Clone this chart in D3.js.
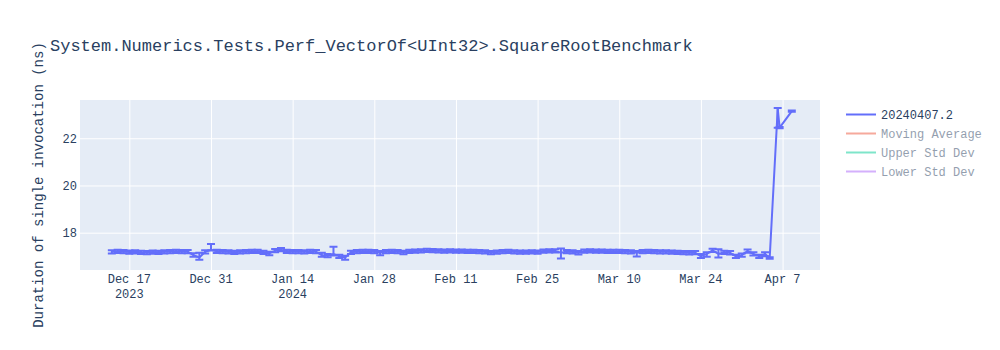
<!DOCTYPE html>
<html>
<head>
<meta charset="utf-8">
<script src="https://cdn.jsdelivr.net/npm/d3@7"></script>
<style>
  body { margin: 0; background: #fff; }
  svg { font-family: "Courier New", "Liberation Mono", monospace; }
</style>
</head>
<body>
<div id="chart"></div>
<script>
// run dates, duration (ns), and asymmetric error bars
const runDates = [
  "2023-12-14","2023-12-15","2023-12-16","2023-12-17","2023-12-18","2023-12-19","2023-12-20",
  "2023-12-21","2023-12-22","2023-12-23","2023-12-24","2023-12-25","2023-12-26","2023-12-27",
  "2023-12-28","2023-12-29","2023-12-30","2023-12-31","2024-01-01","2024-01-02","2024-01-03",
  "2024-01-04","2024-01-05","2024-01-06","2024-01-07","2024-01-08","2024-01-09","2024-01-10",
  "2024-01-11","2024-01-12","2024-01-13","2024-01-14","2024-01-15","2024-01-16","2024-01-17",
  "2024-01-18","2024-01-19","2024-01-20","2024-01-21","2024-01-22","2024-01-23","2024-01-24",
  "2024-01-25","2024-01-26","2024-01-27","2024-01-28","2024-01-29","2024-01-30","2024-01-31",
  "2024-02-01","2024-02-02","2024-02-03","2024-02-04","2024-02-05","2024-02-06","2024-02-07",
  "2024-02-08","2024-02-09","2024-02-10","2024-02-11","2024-02-12","2024-02-13","2024-02-14",
  "2024-02-15","2024-02-16","2024-02-17","2024-02-18","2024-02-19","2024-02-20","2024-02-21",
  "2024-02-22","2024-02-23","2024-02-24","2024-02-25","2024-02-26","2024-02-27","2024-02-28",
  "2024-02-29","2024-03-01","2024-03-02","2024-03-03","2024-03-04","2024-03-05","2024-03-06",
  "2024-03-07","2024-03-08","2024-03-09","2024-03-10","2024-03-11","2024-03-12","2024-03-13",
  "2024-03-14","2024-03-15","2024-03-16","2024-03-17","2024-03-18","2024-03-19","2024-03-20",
  "2024-03-21","2024-03-22","2024-03-23","2024-03-24","2024-03-25","2024-03-26","2024-03-27",
  "2024-03-28","2024-03-29","2024-03-30","2024-03-31","2024-04-01","2024-04-02","2024-04-03",
  "2024-04-04","2024-04-04T19:00Z","2024-04-06T04:00Z","2024-04-06T12:00Z","2024-04-08T14:00Z"
];
const durations = [
  17.19,17.21,17.20,17.18,17.19,17.17,17.16,
  17.18,17.17,17.19,17.20,17.21,17.20,17.20,
  17.05,16.95,17.19,17.28,17.21,17.20,17.19,
  17.17,17.19,17.20,17.21,17.21,17.17,17.12,
  17.24,17.28,17.21,17.20,17.20,17.19,17.21,
  17.20,17.05,17.03,17.10,17.00,16.95,17.17,
  17.20,17.21,17.21,17.20,17.15,17.20,17.21,
  17.20,17.17,17.21,17.22,17.23,17.25,17.24,
  17.23,17.22,17.23,17.22,17.22,17.21,17.21,
  17.20,17.19,17.16,17.18,17.20,17.21,17.19,
  17.18,17.18,17.19,17.18,17.22,17.23,17.23,
  17.15,17.20,17.19,17.15,17.22,17.23,17.22,
  17.22,17.21,17.21,17.21,17.20,17.19,17.15,
  17.20,17.21,17.20,17.19,17.19,17.18,17.17,
  17.16,17.15,17.16,17.00,17.10,17.25,17.10,
  17.17,17.15,17.00,17.05,17.22,17.10,17.00,
  17.10,16.93,23.25,22.45,23.15
];
const errPlus = [
  0.07,0.07,0.07,0.07,0.07,0.07,0.07,
  0.07,0.07,0.07,0.07,0.07,0.07,0.07,
  0.08,0.20,0.07,0.24,0.07,0.07,0.07,
  0.07,0.07,0.07,0.07,0.07,0.07,0.07,
  0.07,0.07,0.07,0.07,0.07,0.07,0.07,
  0.07,0.10,0.07,0.30,0.07,0.07,0.07,
  0.07,0.07,0.07,0.07,0.07,0.07,0.07,
  0.07,0.07,0.07,0.07,0.07,0.07,0.07,
  0.07,0.07,0.07,0.07,0.07,0.07,0.07,
  0.07,0.07,0.07,0.07,0.07,0.07,0.07,
  0.07,0.07,0.07,0.07,0.07,0.07,0.07,
  0.18,0.07,0.07,0.07,0.07,0.07,0.07,
  0.07,0.07,0.07,0.07,0.07,0.07,0.07,
  0.07,0.07,0.07,0.07,0.07,0.07,0.07,
  0.07,0.07,0.07,0.10,0.07,0.07,0.20,
  0.07,0.07,0.07,0.07,0.07,0.07,0.07,
  0.07,0.03,0.03,0.03,0.03
];
const errMinus = [
  0.07,0.07,0.07,0.07,0.07,0.07,0.07,
  0.07,0.07,0.07,0.07,0.07,0.07,0.07,
  0.07,0.10,0.07,0.03,0.07,0.07,0.07,
  0.07,0.07,0.07,0.07,0.07,0.07,0.07,
  0.07,0.07,0.07,0.07,0.07,0.07,0.07,
  0.07,0.07,0.07,0.07,0.07,0.10,0.07,
  0.07,0.07,0.07,0.07,0.10,0.07,0.07,
  0.07,0.08,0.07,0.07,0.07,0.07,0.07,
  0.07,0.07,0.07,0.07,0.07,0.07,0.07,
  0.07,0.07,0.07,0.07,0.07,0.07,0.07,
  0.07,0.07,0.07,0.07,0.07,0.07,0.07,
  0.24,0.07,0.07,0.07,0.07,0.07,0.07,
  0.07,0.07,0.07,0.07,0.07,0.07,0.16,
  0.07,0.07,0.07,0.07,0.07,0.07,0.07,
  0.07,0.07,0.07,0.07,0.12,0.07,0.15,
  0.07,0.07,0.07,0.07,0.07,0.07,0.07,
  0.10,0.03,0.80,0.03,0.03
];

const xTicks = ["2023-12-17","2023-12-31","2024-01-14","2024-01-28","2024-02-11",
                "2024-02-25","2024-03-10","2024-03-24","2024-04-07"];
const xTickLabels = ["Dec 17\n2023","Dec 31","Jan 14\n2024","Jan 28","Feb 11",
                     "Feb 25","Mar 10","Mar 24","Apr 7"];
const yTicks = [18, 20, 22];

const legendNames = ["20240407.2","Moving Average","Upper Std Dev","Lower Std Dev"];
const legendColors = ["#636efa","#EF553B","#00cc96","#ab63fa"];
const legendHidden = [false, true, true, true];

const chartTitle = "System.Numerics.Tests.Perf_VectorOf<UInt32>.SquareRootBenchmark";
const yTitle = "Duration of single invocation (ns)";

const W = 1000, H = 350;
const margin = {left: 80, right: 180, top: 100, bottom: 80};
const plotW = W - margin.left - margin.right;
const plotH = H - margin.top - margin.bottom;
const textColor = "#2a3f5f";
const lineColor = "#636efa";

const points = runDates.map((d, i) => ({
  date: new Date(d),
  v: durations[i],
  hi: durations[i] + errPlus[i],
  lo: durations[i] - errMinus[i]
}));

const svg = d3.select("#chart").append("svg")
  .attr("width", W)
  .attr("height", H);

const x = d3.scaleUtc()
  .domain([new Date("2023-12-08T13:00Z"), new Date("2024-04-13T10:00Z")])
  .range([0, plotW]);
const y = d3.scaleLinear()
  .domain([16.42, 23.62])
  .range([plotH, 0]);

const g = svg.append("g")
  .attr("transform", "translate(" + margin.left + "," + margin.top + ")");

g.append("rect")
  .attr("width", plotW)
  .attr("height", plotH)
  .attr("fill", "#e5ecf6");

// gridlines
const xGrid = g.append("g")
  .attr("transform", "translate(0," + plotH + ")")
  .call(d3.axisBottom(x).tickValues(xTicks.map(d => new Date(d))).tickSize(-plotH).tickFormat(""));
xGrid.select(".domain").remove();
xGrid.selectAll("line").attr("stroke", "#fff").attr("stroke-width", 1);

const yGrid = g.append("g")
  .call(d3.axisLeft(y).tickValues(yTicks).tickSize(-plotW).tickPadding(3));
yGrid.select(".domain").remove();
yGrid.selectAll("line").attr("stroke", "#fff").attr("stroke-width", 1);
yGrid.selectAll("text")
  .attr("fill", textColor)
  .attr("font-size", 12)
  .attr("font-family", "\"Courier New\", \"Liberation Mono\", monospace");

// x tick labels (two lines)
const xLab = g.append("g").selectAll("text")
  .data(xTicks)
  .enter()
  .append("text")
  .attr("x", d => x(new Date(d)))
  .attr("y", plotH + 13)
  .attr("text-anchor", "middle")
  .attr("fill", textColor)
  .attr("font-size", 12);
xLab.each(function(d, i) {
  const lines = xTickLabels[i].split("\n");
  const t = d3.select(this);
  lines.forEach((s, k) => {
    t.append("tspan")
      .attr("x", x(new Date(d)))
      .attr("dy", k === 0 ? 0 : 15)
      .text(s);
  });
});

// error bars
const marks = g.append("g");
const capW = 4;
marks.append("g").selectAll("path")
  .data(points)
  .enter()
  .append("path")
  .attr("d", d => {
    const px = x(d.date), yh = y(d.hi), yl = y(d.lo);
    return "M" + (px - capW) + "," + yh + "h" + (2 * capW) +
           "M" + px + "," + yh + "V" + yl +
           "M" + (px - capW) + "," + yl + "h" + (2 * capW);
  })
  .attr("fill", "none")
  .attr("stroke", lineColor)
  .attr("stroke-width", 2);

// main line
const line = d3.line()
  .x(d => x(d.date))
  .y(d => y(d.v));
marks.append("path")
  .datum(points)
  .attr("d", line)
  .attr("fill", "none")
  .attr("stroke", lineColor)
  .attr("stroke-width", 2)
  .attr("stroke-linejoin", "round");

// title
svg.append("text")
  .attr("x", 50)
  .attr("y", 51)
  .attr("fill", textColor)
  .attr("font-size", 17)
  .text(chartTitle);

// y axis title
svg.append("text")
  .attr("transform", "translate(42.5," + (margin.top + plotH / 2) + ") rotate(-90)")
  .attr("text-anchor", "middle")
  .attr("fill", textColor)
  .attr("font-size", 14)
  .text(yTitle);

// legend
const leg = svg.append("g")
  .selectAll("g")
  .data(legendNames)
  .enter()
  .append("g")
  .attr("transform", (d, i) => "translate(846," + (114.5 + i * 19) + ")")
  .attr("opacity", (d, i) => legendHidden[i] ? 0.5 : 1);
leg.append("line")
  .attr("x1", 0).attr("x2", 30)
  .attr("stroke", (d, i) => legendColors[i])
  .attr("stroke-width", 2);
leg.append("text")
  .attr("x", 35)
  .attr("y", 4)
  .attr("fill", textColor)
  .attr("font-size", 12)
  .text(d => d);
</script>
</body>
</html>
